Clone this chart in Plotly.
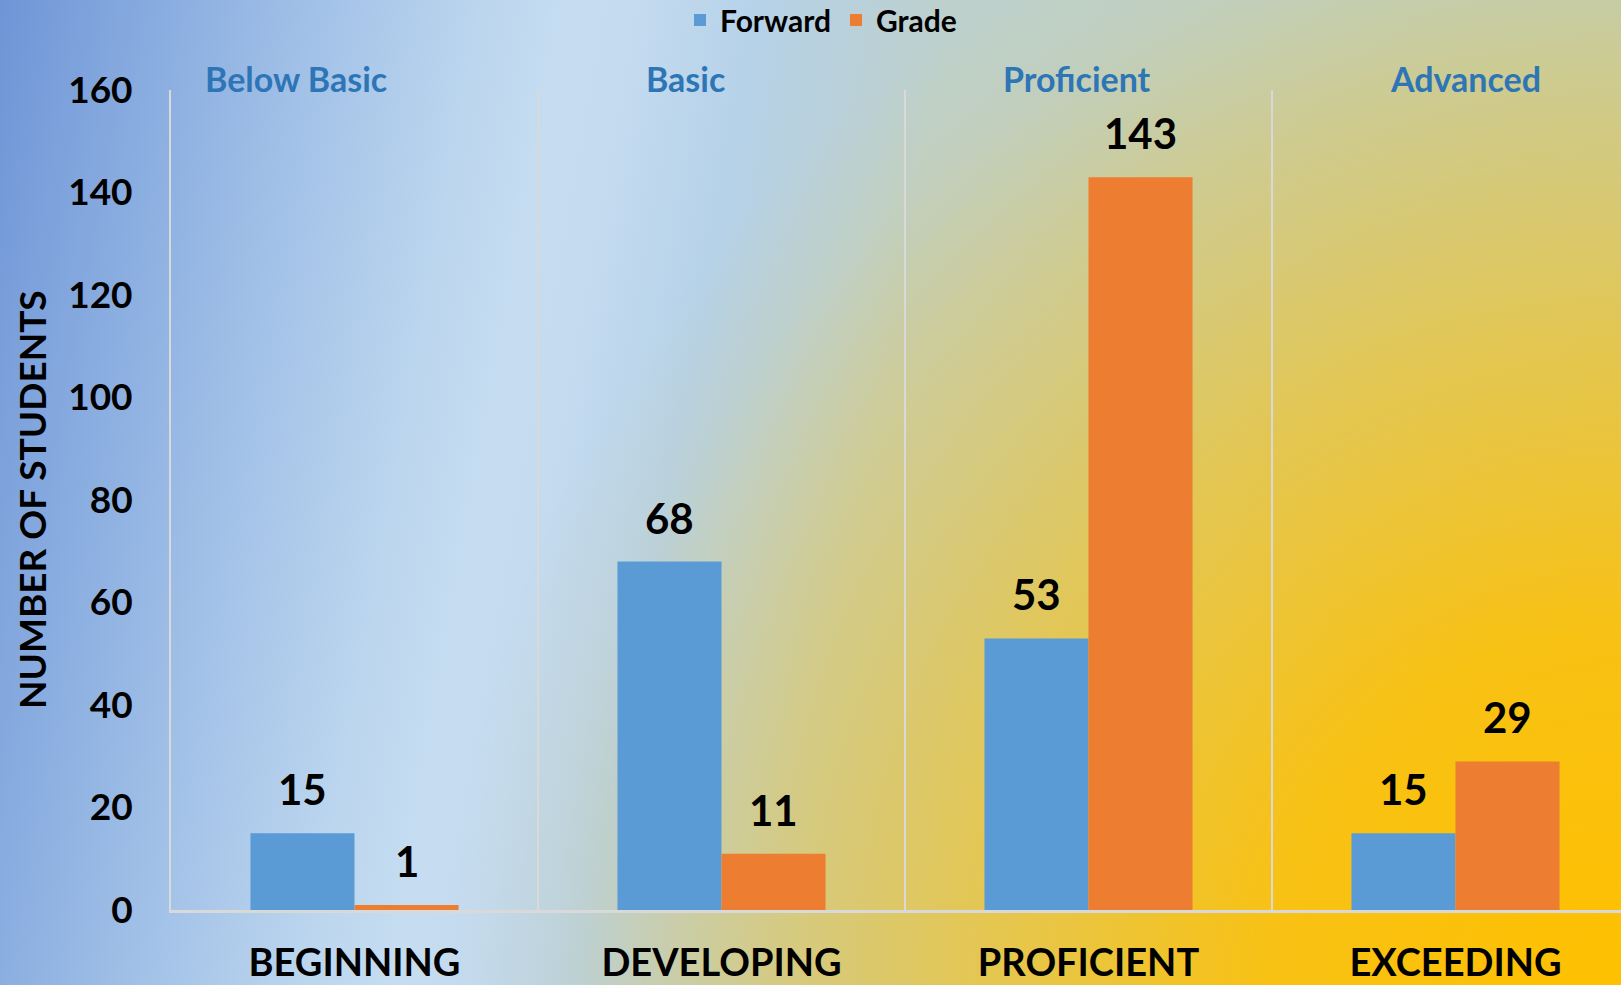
import base64
import plotly.graph_objects as go

# Achievement levels and student counts
levels = ["BEGINNING", "DEVELOPING", "PROFICIENT", "EXCEEDING"]
band_names = ["Below Basic", "Basic", "Proficient", "Advanced"]
forward_counts = [15, 68, 53, 15]
grade_counts = [1, 11, 143, 29]
y_ticks = [0, 20, 40, 60, 80, 100, 120, 140, 160]

W, H = 1621, 985
M_L, M_R, M_T, M_B = 171, 0, 90, 75
PLOT_W = W - M_L - M_R
PLOT_H = H - M_T - M_B
CAT_PX = 367                      # width of one category slot
X_MAX = -0.5 + PLOT_W / CAT_PX    # last slot runs past the right edge
BARGAP = 0.433
HALF_BAR = CAT_PX * (1 - BARGAP) / 4

FONT = "Lato"
BLUE = "#5b9bd5"
ORANGE = "#ed7d31"
GRID = "#d9d9d9"
BAND_COLOR = "#2e75b6"

# Background: a blue-to-grey sweep from the left, with a warm amber glow
# spreading out of the lower-right corner.
svg = f"""<svg xmlns='http://www.w3.org/2000/svg' width='{W}' height='{H}' viewBox='0 0 {W} {H}' preserveAspectRatio='none'>
<defs>
<linearGradient id='base' gradientUnits='userSpaceOnUse' x1='0' y1='0' x2='1741' y2='312'>
<stop offset='0' stop-color='#6f95d6'/>
<stop offset='0.08' stop-color='#86aadf'/>
<stop offset='0.18' stop-color='#a3c2e8'/>
<stop offset='0.27' stop-color='#bcd6ee'/>
<stop offset='0.32' stop-color='#c6ddf1'/>
<stop offset='0.36' stop-color='#c3daef'/>
<stop offset='0.42' stop-color='#b6d2e9'/>
<stop offset='0.53' stop-color='#bdd0cc'/>
<stop offset='1' stop-color='#b9cfc6'/>
</linearGradient>
<radialGradient id='glow' gradientUnits='userSpaceOnUse' cx='{W}' cy='{H}' r='1170'>
<stop offset='0' stop-color='#ffc000' stop-opacity='1'/>
<stop offset='0.30' stop-color='#ffc000' stop-opacity='0.9'/>
<stop offset='0.56' stop-color='#ffc000' stop-opacity='0.58'/>
<stop offset='0.785' stop-color='#ffc000' stop-opacity='0.27'/>
<stop offset='0.91' stop-color='#ffc000' stop-opacity='0.07'/>
<stop offset='1' stop-color='#ffc000' stop-opacity='0'/>
</radialGradient>
</defs>
<rect x='0' y='0' width='{W}' height='{H}' fill='url(#base)'/>
<rect x='0' y='0' width='{W}' height='{H}' fill='url(#glow)'/>
</svg>"""
bg_src = "data:image/svg+xml;base64," + base64.b64encode(svg.encode()).decode()

fig = go.Figure()
fig.add_trace(go.Bar(name="Forward", x=levels, y=forward_counts,
                     marker=dict(color=BLUE, line=dict(width=0))))
fig.add_trace(go.Bar(name="Grade", x=levels, y=grade_counts,
                     marker=dict(color=ORANGE, line=dict(width=0))))

annotations = []
# value labels above each bar
for series, shift in ((forward_counts, -HALF_BAR), (grade_counts, HALF_BAR)):
    for lvl, v in zip(levels, series):
        annotations.append(dict(
            x=lvl, y=v, xref="x", yref="y", text=str(v), showarrow=False,
            xshift=shift, yshift=44, yanchor="middle", xanchor="center",
            font=dict(family=FONT, size=42, color="black", weight="bold")))

# performance band headings along the top
band_x = [-0.16, 0.903, 1.969, 3.026]
for name, bx in zip(band_names, band_x):
    annotations.append(dict(
        x=bx, y=1 + (M_T - 79) / PLOT_H, xref="x", yref="paper", text=name,
        showarrow=False, xanchor="center", yanchor="middle",
        font=dict(family=FONT, size=34, color=BAND_COLOR, weight="bold")))

# vertical axis title
annotations.append(dict(
    x=(31 - M_L) / PLOT_W, y=0.5, xref="paper", yref="paper",
    text="NUMBER OF STUDENTS", textangle=-90, showarrow=False,
    xanchor="center", yanchor="middle",
    font=dict(family=FONT, size=37, color="black", weight="bold")))

fig.update_layout(
    width=W, height=H, autosize=False,
    margin=dict(l=M_L, r=M_R, t=M_T, b=M_B, pad=0, autoexpand=False),
    paper_bgcolor="#b8cfd8",
    plot_bgcolor="rgba(0,0,0,0)",
    barmode="group", bargap=BARGAP, bargroupgap=0,
    showlegend=True,
    legend=dict(orientation="h", xref="container", yref="container",
                x=680 / W, xanchor="left",
                y=1 - 20 / H, yanchor="middle",
                bgcolor="rgba(0,0,0,0)", traceorder="normal",
                font=dict(family=FONT, size=30, color="black", weight="bold")),
    xaxis=dict(type="category", range=[-0.5, X_MAX], tickson="boundaries",
               showgrid=True, gridcolor=GRID, gridwidth=2,
               showline=True, linecolor=GRID, linewidth=3,
               ticks="", ticklabelstandoff=17, zeroline=False, automargin=False,
               tickfont=dict(family=FONT, size=38, color="black", weight="bold")),
    yaxis=dict(range=[0, 160], tickvals=y_ticks, showgrid=False, zeroline=False,
               showline=True, linecolor=GRID, linewidth=2,
               ticks="", ticklabelstandoff=29, automargin=False,
               tickfont=dict(family=FONT, size=37, color="black", weight="bold")),
    annotations=annotations,
    images=[dict(source=bg_src, xref="paper", yref="paper",
                 x=-M_L / PLOT_W, y=1 + M_T / PLOT_H,
                 sizex=W / PLOT_W, sizey=H / PLOT_H,
                 xanchor="left", yanchor="top", sizing="stretch", layer="below")],
)

fig.write_html("out.html")
